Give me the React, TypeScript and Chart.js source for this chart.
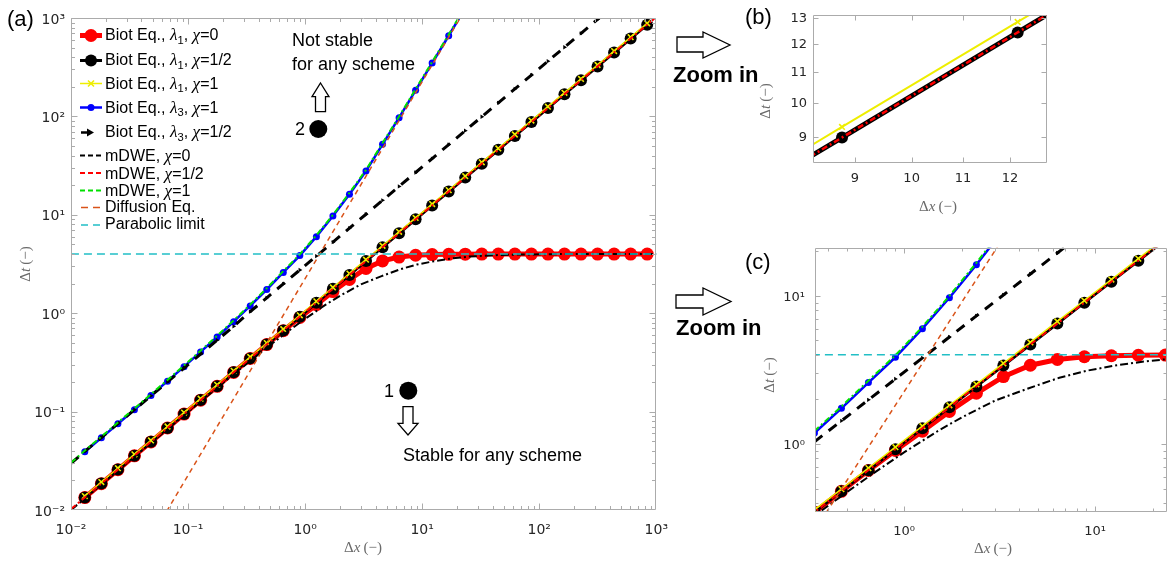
import React, { useEffect, useRef } from 'react';
import { Chart, registerables } from 'chart.js';

Chart.register(...registerables);

// ---------------- data ----------------
// grid-size (Δx) of the Biot-equation markers
const dxMarkers = [0.01312, 0.01817, 0.02516, 0.03482, 0.04822, 0.06676, 0.09243, 0.128, 0.1772, 0.2453, 0.3396, 0.4702, 0.651, 0.9013, 1.248, 1.728, 2.392, 3.312, 4.585, 6.349, 8.79, 12.17, 16.85, 23.33, 32.3, 44.72, 61.92, 85.74, 118.7, 164.3, 227.5, 315.0, 436.1, 603.9, 836.1];

// Biot Eq., λ1, χ=0
const biotL1Chi0 = [0.01338, 0.01853, 0.02566, 0.03552, 0.04918, 0.0681, 0.0943, 0.1306, 0.1807, 0.2502, 0.3464, 0.4796, 0.663, 0.905, 1.22, 1.66, 2.2, 2.85, 3.4, 3.72, 3.88, 3.94, 3.97, 3.98, 3.99, 3.99, 3.99, 3.99, 3.99, 3.99, 3.99, 3.99, 3.99, 3.99, 3.99];
// Biot Eq., λ1, χ=1/2
const biotL1ChiHalf = [0.01342, 0.01859, 0.02574, 0.03562, 0.04933, 0.0683, 0.09456, 0.1309, 0.1813, 0.2509, 0.3474, 0.481, 0.666, 0.922, 1.277, 1.768, 2.447, 3.388, 4.69, 6.495, 8.99, 12.45, 17.24, 23.87, 33.04, 45.75, 63.34, 87.71, 121.4, 168.1, 232.7, 322.2, 446.1, 617.8, 855.3];
// Biot Eq., λ1, χ=1
const biotL1Chi1 = [0.01387, 0.01921, 0.02659, 0.0368, 0.05097, 0.07057, 0.0977, 0.1353, 0.1873, 0.2593, 0.359, 0.497, 0.688, 0.9527, 1.319, 1.826, 2.528, 3.501, 4.846, 6.711, 9.291, 12.86, 17.81, 24.66, 34.14, 47.27, 65.45, 90.63, 125.5, 173.7, 240.5, 333.0, 461.0, 638.3, 883.8];
// Biot Eq., λ3, χ=1 (first 24 markers)
const biotL3Chi1 = [0.039, 0.0541, 0.0752, 0.1046, 0.146, 0.204, 0.2864, 0.404, 0.573, 0.82, 1.186, 1.741, 2.598, 3.85, 6.0, 9.7, 16.2, 27.8, 52, 97, 184, 348, 660, 1265];
// Biot Eq., λ3, χ=1/2
const biotL3ChiHalfX = [0.01, 0.01312, 0.01817, 0.02516, 0.03482, 0.04822, 0.06676, 0.09243, 0.128, 0.1772, 0.2453, 0.3396, 0.4702, 0.651, 0.9013, 1.248, 1.728, 2.392, 3.312, 4.585, 6.349, 8.79, 12.17, 16.85, 23.33, 32.3, 44.72, 61.92, 85.74, 118.7, 164.3, 227.5, 315.0, 436.1];
const biotL3ChiHalf = [0.0298, 0.0394, 0.0545, 0.0755, 0.1045, 0.1447, 0.2003, 0.2773, 0.384, 0.5316, 0.7359, 1.036, 1.434, 1.986, 2.749, 3.806, 5.27, 7.32, 10.13, 14.03, 19.43, 26.9, 37.3, 51.7, 71.6, 99.2, 137.3, 190.1, 263.2, 364.4, 504.4, 698.4, 967.1, 1339];
// mDWE, χ=0
const mdweChi0X = [0.01, 0.03, 0.1, 0.2, 0.35, 0.5, 0.7, 1, 1.5, 2, 3, 4.5, 6.5, 9, 13, 18, 25, 40, 70, 150, 400, 1000];
const mdweChi0 = [0.01, 0.0299, 0.0992, 0.1963, 0.3372, 0.472, 0.642, 0.878, 1.221, 1.51, 1.965, 2.38, 2.8, 3.12, 3.4, 3.6, 3.76, 3.88, 3.95, 3.985, 3.995, 3.998];
// mDWE, χ=1/2
const mdweChiHalfX = [0.01, 1, 1000];
const mdweChiHalf = [0.01023, 1.023, 1023];
// mDWE, χ=1
const mdweChi1X = [0.01, 0.01312, 0.01817, 0.02516, 0.03482, 0.04822, 0.06676, 0.09243, 0.128, 0.1772, 0.2453, 0.3396, 0.4702, 0.651, 0.9013, 1.248, 1.728, 2.392, 3.312, 4.585, 6.349, 8.79, 12.17, 16.85, 23.33];
const mdweChi1 = [0.0303, 0.0402, 0.0557, 0.0775, 0.1077, 0.1504, 0.2101, 0.295, 0.416, 0.59, 0.845, 1.222, 1.793, 2.676, 3.966, 6.18, 9.99, 16.69, 28.63, 53.6, 99.9, 189.5, 358.4, 679.8, 1303];
// Diffusion Eq.
const diffusionX = [0.05, 1, 30];
const diffusion = [0.005625, 2.25, 2025];
// Parabolic limit
const parabolicX = [0.001, 10000];
const parabolic = [4, 4];

// tick values
const ticksA = [0.01, 0.1, 1, 10, 100, 1000];
const minorA = [2, 3, 4, 5, 6, 7, 8, 9].flatMap((m) => [0.01, 0.1, 1, 10, 100].map((d) => m * d));
const ticksC = [1, 10];
const minorC = [0.4, 0.5, 0.6, 0.7, 0.8, 0.9, 2, 3, 4, 5, 6, 7, 8, 9, 20];
const ticksBx = [9, 10, 11, 12];
const ticksBy = [9, 10, 11, 12, 13];

const legendLabels = ['Biot Eq., λ1, χ=0', 'Biot Eq., λ1, χ=1/2', 'Biot Eq., λ1, χ=1', 'Biot Eq., λ3, χ=1', 'Biot Eq., λ3, χ=1/2', 'mDWE, χ=0', 'mDWE, χ=1/2', 'mDWE, χ=1', 'Diffusion Eq.', 'Parabolic limit'];

// ---------------- styles ----------------
const RED = '#ff0000';
const BLACK = '#000000';
const YELLOW = '#eeee00';
const BLUE = '#0000ff';
const GREEN = '#00e000';
const ORANGE = '#d95319';
const CYAN = '#22bfc6';
const FRAME = '#ababab';
const TICK = '#262626';
const TITLE = '#6a6a6a';
const SANS = '"Liberation Sans", Arial, sans-serif';
const SERIF = '"Liberation Serif", "Times New Roman", serif';

const SUP: Record<string, string> = { '-': '⁻', '0': '⁰', '1': '¹', '2': '²', '3': '³', '4': '⁴', '5': '⁵', '6': '⁶', '7': '⁷', '8': '⁸', '9': '⁹' };
const pow10Label = (v: number) => '10' + String(Math.round(Math.log10(v))).split('').map((c) => SUP[c]).join('');

const xy = (xs: number[], ys: number[]) => xs.map((x, i) => ({ x, y: ys[i] }));

function buildDatasets(v: 'a' | 'b' | 'c') {
  const wide = v === 'b';
  const items: any[] = [
    { data: xy(dxMarkers, biotL1Chi0), borderColor: RED, borderWidth: 5, pointRadius: 6.5, pointBackgroundColor: RED, pointBorderColor: RED, pointBorderWidth: 0 },
    { data: xy(dxMarkers, biotL1ChiHalf), borderColor: BLACK, borderWidth: wide ? 5 : 3, pointRadius: 6, pointBackgroundColor: BLACK, pointBorderColor: BLACK, pointBorderWidth: 0 },
    { data: xy(dxMarkers, biotL1Chi1), borderColor: YELLOW, borderWidth: wide ? 2 : 1.5, pointStyle: 'crossRot', pointRadius: 4, pointBorderColor: YELLOW, pointBackgroundColor: YELLOW, pointBorderWidth: 1.6 },
    { data: xy(dxMarkers.slice(0, biotL3Chi1.length), biotL3Chi1), borderColor: BLUE, borderWidth: 2.5, pointRadius: 3.5, pointBackgroundColor: BLUE, pointBorderColor: BLUE, pointBorderWidth: 0 },
    { data: xy(biotL3ChiHalfX, biotL3ChiHalf), borderColor: BLACK, borderWidth: 3, borderDash: [10, 8], pointStyle: 'triangle', pointRotation: 90, pointRadius: (c: any) => (c.dataIndex === 0 ? 0 : 2.5), pointBackgroundColor: BLACK, pointBorderColor: BLACK, pointBorderWidth: 0 },
    { data: xy(mdweChi0X, mdweChi0), borderColor: BLACK, borderWidth: 2, borderDash: [8, 3, 2, 3], pointRadius: 0 },
    { data: xy(mdweChiHalfX, mdweChiHalf), borderColor: RED, borderWidth: wide ? 2.5 : 2, borderDash: [6, 3, 2, 3], pointRadius: 0 },
    { data: xy(mdweChi1X, mdweChi1), borderColor: GREEN, borderWidth: 2, borderDash: [6, 3, 2, 3], pointRadius: 0 },
    { data: xy(diffusionX, diffusion), borderColor: ORANGE, borderWidth: 1.5, borderDash: [5, 4], pointRadius: 0 },
    { data: xy(parabolicX, parabolic), borderColor: CYAN, borderWidth: 1.6, borderDash: [8, 5], pointRadius: 0 },
  ];
  return items.map((d, i) => ({
    label: legendLabels[i],
    showLine: true,
    tension: 0,
    fill: false,
    order: items.length - i,
    pointHoverRadius: 0,
    ...d,
  }));
}

function makeFrame(o: { xMajor: number[]; xMinor: number[]; yMajor: number[]; yMinor: number[]; majorLen: number; minorLen: number }) {
  return {
    id: 'frame',
    afterDatasetsDraw(chart: any) {
      const { ctx, chartArea: a } = chart;
      const xs = chart.scales.x;
      const ys = chart.scales.y;
      ctx.save();
      ctx.strokeStyle = FRAME;
      ctx.lineWidth = 1;
      ctx.setLineDash([]);
      const L = Math.round(a.left) + 0.5;
      const R = Math.round(a.right) - 0.5;
      const T = Math.round(a.top) + 0.5;
      const B = Math.round(a.bottom) - 0.5;
      ctx.beginPath();
      ctx.rect(L, T, R - L, B - T);
      const xt = (v: number, len: number) => {
        const p = Math.round(xs.getPixelForValue(v)) + 0.5;
        if (p < L || p > R) return;
        ctx.moveTo(p, B); ctx.lineTo(p, B - len);
        ctx.moveTo(p, T); ctx.lineTo(p, T + len);
      };
      const yt = (v: number, len: number) => {
        const p = Math.round(ys.getPixelForValue(v)) + 0.5;
        if (p < T || p > B) return;
        ctx.moveTo(L, p); ctx.lineTo(L + len, p);
        ctx.moveTo(R, p); ctx.lineTo(R - len, p);
      };
      o.xMajor.forEach((v) => xt(v, o.majorLen));
      o.xMinor.forEach((v) => xt(v, o.minorLen));
      o.yMajor.forEach((v) => yt(v, o.majorLen));
      o.yMinor.forEach((v) => yt(v, o.minorLen));
      ctx.stroke();
      ctx.restore();
    },
  };
}

const legendSymbols = {
  id: 'legendSymbols',
  afterDraw(chart: any) {
    const ctx = chart.ctx as CanvasRenderingContext2D;
    const x0 = 80, x1 = 102, xm = 91;
    const seg = (y: number, color: string, w: number, dash: number[] = [], a = x0, b = x1) => {
      ctx.save();
      ctx.strokeStyle = color; ctx.lineWidth = w; ctx.setLineDash(dash);
      ctx.beginPath(); ctx.moveTo(a, y); ctx.lineTo(b, y); ctx.stroke();
      ctx.restore();
    };
    const dot = (y: number, color: string, r: number) => {
      ctx.save(); ctx.fillStyle = color; ctx.beginPath(); ctx.arc(xm, y, r, 0, Math.PI * 2); ctx.fill(); ctx.restore();
    };
    seg(35.5, RED, 5); dot(35.5, RED, 6.5);
    seg(60.5, BLACK, 3); dot(60.5, BLACK, 6);
    seg(83.5, YELLOW, 1.5);
    ctx.save(); ctx.strokeStyle = YELLOW; ctx.lineWidth = 1.6; ctx.beginPath();
    ctx.moveTo(xm - 3, 80.5); ctx.lineTo(xm + 3, 86.5); ctx.moveTo(xm + 3, 80.5); ctx.lineTo(xm - 3, 86.5); ctx.stroke(); ctx.restore();
    seg(107.5, BLUE, 2.5); dot(107.5, BLUE, 3.5);
    seg(132.5, BLACK, 2.5, [], 81, 88);
    ctx.save(); ctx.fillStyle = BLACK; ctx.beginPath(); ctx.moveTo(87, 128.5); ctx.lineTo(94, 132.5); ctx.lineTo(87, 136.5); ctx.closePath(); ctx.fill(); ctx.restore();
    seg(155.5, BLACK, 2, [5, 3]);
    seg(173, RED, 2, [5, 3]);
    seg(190.5, GREEN, 2, [5, 3]);
    seg(207.5, ORANGE, 1.5, [7, 5], 81, 100);
    seg(225, CYAN, 1.5, [7, 5], 81, 100);
  },
};

type Cfg = {
  variant: 'a' | 'b' | 'c';
  xMin: number; xMax: number; yMin: number; yMax: number;
  xTicks: number[]; yTicks: number[]; xMinor: number[]; yMinor: number[];
  padding: { left: number; right: number; top: number; bottom: number };
  yWidth: number; xHeight: number; xPad: number; yPad: number; yLabelOffset: number;
  fontSize: number; fmt: (v: number) => string; majorLen: number; minorLen: number; extra?: any[];
};

function makeConfig(p: Cfg): any {
  const font = { family: '"DejaVu Sans", sans-serif', size: p.fontSize };
  return {
    type: 'scatter',
    data: { datasets: buildDatasets(p.variant) },
    options: {
      responsive: false,
      maintainAspectRatio: false,
      animation: false,
      events: [],
      layout: { padding: p.padding },
      plugins: { legend: { display: false }, tooltip: { enabled: false } },
      scales: {
        x: {
          type: 'logarithmic', min: p.xMin, max: p.xMax, bounds: 'data',
          grid: { display: false, drawTicks: false }, border: { display: false },
          ticks: { autoSkip: false, maxRotation: 0, minRotation: 0, padding: p.xPad, color: TICK, font, callback: (v: any) => p.fmt(Number(v)) },
          afterBuildTicks: (s: any) => { s.min = p.xMin; s.max = p.xMax; s.ticks = p.xTicks.map((v) => ({ value: v })); },
          afterFit: (s: any) => { s.height = p.xHeight; },
        },
        y: {
          type: 'logarithmic', min: p.yMin, max: p.yMax, bounds: 'data',
          grid: { display: false, drawTicks: false }, border: { display: false },
          ticks: { autoSkip: false, padding: p.yPad, color: TICK, font, labelOffset: p.yLabelOffset, callback: (v: any) => p.fmt(Number(v)) },
          afterBuildTicks: (s: any) => { s.min = p.yMin; s.max = p.yMax; s.ticks = p.yTicks.map((v) => ({ value: v })); },
          afterFit: (s: any) => { s.width = p.yWidth; },
        },
      },
    },
    plugins: [makeFrame({ xMajor: p.xTicks, xMinor: p.xMinor, yMajor: p.yTicks, yMinor: p.yMinor, majorLen: p.majorLen, minorLen: p.minorLen }), ...(p.extra || [])],
  };
}

function Panel({ left, top, width, height, cfg }: { left: number; top: number; width: number; height: number; cfg: Cfg }) {
  const ref = useRef<HTMLCanvasElement>(null);
  useEffect(() => {
    const chart = new Chart(ref.current as HTMLCanvasElement, makeConfig(cfg));
    return () => chart.destroy();
  }, []);
  return <canvas ref={ref} width={width} height={height} style={{ position: 'absolute', left, top, width, height }} />;
}

const G = ({ c }: { c: string }) => <span style={{ fontFamily: SERIF, fontStyle: 'italic', fontSize: '1.08em' }}>{c}</span>;
const Sub = ({ c }: { c: string }) => <span style={{ fontSize: '0.7em', position: 'relative', top: '0.32em' }}>{c}</span>;

const legendRows: { base: number; node: React.ReactNode }[] = [
  { base: 40, node: <>Biot Eq., <G c="λ" /><Sub c="1" />, <G c="χ" />=0</> },
  { base: 65, node: <>Biot Eq., <G c="λ" /><Sub c="1" />, <G c="χ" />=1/2</> },
  { base: 88.3, node: <>Biot Eq., <G c="λ" /><Sub c="1" />, <G c="χ" />=1</> },
  { base: 112.3, node: <>Biot Eq., <G c="λ" /><Sub c="3" />, <G c="χ" />=1</> },
  { base: 136.7, node: <>Biot Eq., <G c="λ" /><Sub c="3" />, <G c="χ" />=1/2</> },
  { base: 160.7, node: <>mDWE, <G c="χ" />=0</> },
  { base: 178.5, node: <>mDWE, <G c="χ" />=1/2</> },
  { base: 196, node: <>mDWE, <G c="χ" />=1</> },
  { base: 212.5, node: <>Diffusion Eq.</> },
  { base: 230, node: <>Parabolic limit</> },
];

const Txt = ({ x, base, size, bold, children }: { x: number; base: number; size: number; bold?: boolean; children: React.ReactNode }) => (
  <div style={{ position: 'absolute', left: x, top: base - 0.847 * size, fontFamily: SANS, fontSize: size, lineHeight: 1, fontWeight: bold ? 700 : 400, whiteSpace: 'nowrap', color: '#000' }}>{children}</div>
);

const AxisTitle = ({ cx, cy, v, label }: { cx: number; cy: number; v?: boolean; label: string }) => (
  <div style={{ position: 'absolute', left: cx, top: cy, transform: `translate(-50%, -50%)${v ? ' rotate(-90deg)' : ''}`, fontFamily: SERIF, fontSize: 15, lineHeight: 1, color: TITLE, whiteSpace: 'nowrap' }}>
    Δ<i>{label}</i>&#8201;(−)
  </div>
);

export default function App() {
  const cfgA: Cfg = {
    variant: 'a', xMin: 0.01, xMax: 1000, yMin: 0.01, yMax: 1000,
    xTicks: ticksA, yTicks: ticksA, xMinor: minorA, yMinor: minorA,
    padding: { left: 0, right: 23, top: 18, bottom: 0 }, yWidth: 71, xHeight: 52, xPad: 12, yPad: 6, yLabelOffset: 2,
    fontSize: 14, fmt: pow10Label, majorLen: 6, minorLen: 3.5, extra: [legendSymbols],
  };
  const cfgB: Cfg = {
    variant: 'b', xMin: 8.33, xMax: 12.85, yMin: 8.31, yMax: 13.14,
    xTicks: ticksBx, yTicks: ticksBy, xMinor: [], yMinor: [],
    padding: { left: 0, right: 23, top: 15, bottom: 0 }, yWidth: 73, xHeight: 67, xPad: 8, yPad: 6, yLabelOffset: 0,
    fontSize: 13, fmt: (v) => String(Math.round(v)), majorLen: 5, minorLen: 3,
  };
  const cfgC: Cfg = {
    variant: 'c', xMin: 0.342, xMax: 23.8, yMin: 0.348, yMax: 21.07,
    xTicks: ticksC, yTicks: ticksC, xMinor: minorC, yMinor: minorC,
    padding: { left: 0, right: 8, top: 16, bottom: 0 }, yWidth: 115, xHeight: 50, xPad: 12, yPad: 10, yLabelOffset: 2,
    fontSize: 13, fmt: pow10Label, majorLen: 5, minorLen: 3,
  };
  return (
    <div style={{ position: 'absolute', left: 0, top: 0, width: 1175, height: 562, background: '#fff', overflow: 'hidden' }}>
      <Panel left={0} top={0} width={680} height={562} cfg={cfgA} />
      <Panel left={740} top={0} width={330} height={230} cfg={cfgB} />
      <Panel left={700} top={230} width={475} height={332} cfg={cfgC} />

      {legendRows.map((r, i) => (
        <Txt key={i} x={105} base={r.base} size={16}>{r.node}</Txt>
      ))}

      <AxisTitle cx={25} cy={264} v label="t" />
      <AxisTitle cx={363} cy={547} label="x" />
      <AxisTitle cx={765} cy={101} v label="t" />
      <AxisTitle cx={938} cy={206} label="x" />
      <AxisTitle cx={768.5} cy={375} v label="t" />
      <AxisTitle cx={993} cy={548} label="x" />

      <Txt x={7} base={26.7} size={22}>(a)</Txt>
      <Txt x={745} base={25} size={22}>(b)</Txt>
      <Txt x={745} base={270} size={22}>(c)</Txt>

      <Txt x={292} base={46} size={18}>Not stable</Txt>
      <Txt x={292} base={70.5} size={18}>for any scheme</Txt>
      <Txt x={295} base={135} size={18}>2</Txt>
      <Txt x={384} base={397} size={18}>1</Txt>
      <Txt x={403} base={461.7} size={18}>Stable for any scheme</Txt>

      <Txt x={673} base={83} size={22} bold>Zoom in</Txt>
      <Txt x={676} base={336} size={22} bold>Zoom in</Txt>

      <svg width={1175} height={562} style={{ position: 'absolute', left: 0, top: 0, pointerEvents: 'none' }}>
        <g fill="#fff" stroke="#000" strokeWidth={1.3} strokeLinejoin="miter">
          <polygon points="677,37 703,37 703,32 730,45 703,58 703,52 677,52" />
          <polygon points="676,295 703,295 703,288 731,301.5 703,315 703,308 676,308" />
          <polygon points="320.5,83 329,96.7 325.5,96.7 325.5,111.7 315.5,111.7 315.5,96.7 312,96.7" />
          <polygon points="403,406.7 413,406.7 413,423.3 418,423.3 408,435 398,423.3 403,423.3" />
        </g>
        <circle cx={318.3} cy={129} r={9} fill="#000" />
        <circle cx={408.3} cy={390.7} r={9} fill="#000" />
      </svg>
    </div>
  );
}
